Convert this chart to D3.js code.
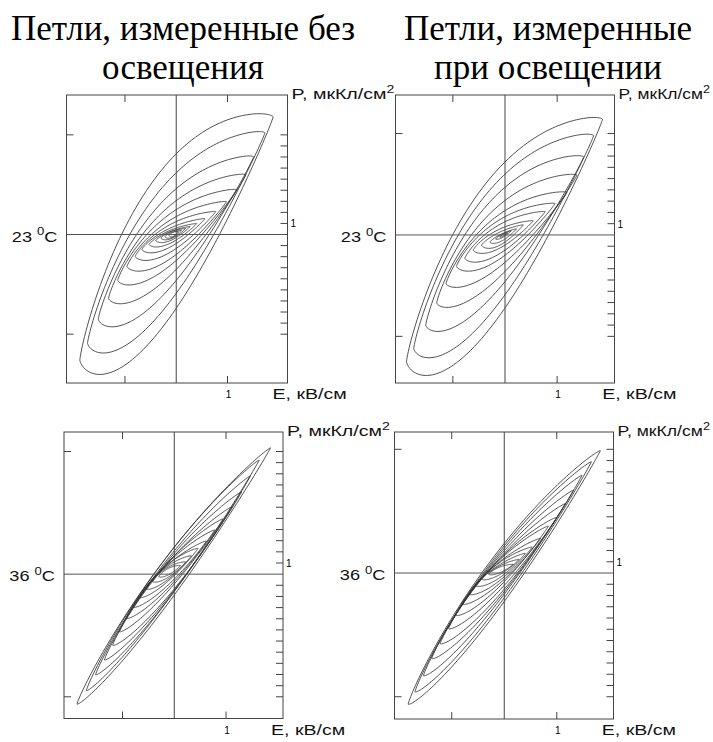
<!DOCTYPE html>
<html>
<head>
<meta charset="utf-8">
<script src="https://cdn.jsdelivr.net/npm/d3@7"></script>
<style>
  body { margin: 0; background: #fff; }
  svg { display: block; }
</style>
</head>
<body>
<svg id="chart" width="713" height="742"></svg>
<script>
// ---- Column titles ----
const titleLeft = ["Петли, измеренные без", "освещения"];
const titleRight = ["Петли, измеренные", "при освещении"];
const temperatures = ["23", "36"];

// ---- Axis ticks ----
const eTicks = [-1, 1];            // field ticks on top / bottom edges
const pTicks = [-1, 1];            // polarization ticks on the left edge
const eTickLabel = 1;
const rightTicksTop = [9, 8, 7, 6, 5, 4, 3, 2, 1, -1, -2, -3, -4, -5, -6, -7, -8, -9];
const rightTicksBottom = [11, 10, 9, 8, 7, 6, 5, 4, 3, 2, 1, -1, -2, -3, -4, -5, -6, -7, -8, -9, -10, -11];
const rightTickLabel = 1;

// ---- Loops, 23 °C, no illumination ----
// each loop: left tip (E,P), right tip (E,P), upper and lower branch P at E = 0
const dark23LeftE  = [-1.88, -1.73, -1.52, -1.32, -1.14, -0.96, -0.80, -0.67, -0.53, -0.40, -0.30, -0.22, -0.14];
const dark23LeftP  = [-1.26, -1.09, -0.85, -0.64, -0.46, -0.32, -0.22, -0.15, -0.10, -0.06, -0.035, -0.02, -0.01];
const dark23RightE = [1.89, 1.73, 1.51, 1.36, 1.18, 0.98, 0.77, 0.56, 0.40, 0.27, 0.18, 0.10, 0.04];
const dark23RightP = [1.18, 1.02, 0.78, 0.60, 0.45, 0.33, 0.23, 0.16, 0.11, 0.08, 0.06, 0.045, 0.03];
const dark23Up0    = [0.81, 0.62, 0.46, 0.34, 0.25, 0.18, 0.13, 0.09, 0.065, 0.05, 0.045, 0.035, 0.03];
const dark23Down0  = [-0.74, -0.59, -0.46, -0.35, -0.26, -0.20, -0.14, -0.09, -0.055, -0.03, -0.015, -0.005, 0.005];

// ---- Loops, 23 °C, illuminated ----
const lit23LeftE  = [-1.89, -1.75, -1.52, -1.31, -1.13, -0.93, -0.77, -0.61, -0.45, -0.29, -0.18, -0.10];
const lit23LeftP  = [-1.25, -1.12, -0.89, -0.67, -0.48, -0.31, -0.23, -0.15, -0.10, -0.07, -0.04, -0.02];
const lit23RightE = [1.87, 1.70, 1.51, 1.38, 1.19, 0.96, 0.77, 0.54, 0.35, 0.22, 0.12, 0.05];
const lit23RightP = [1.14, 0.98, 0.77, 0.59, 0.42, 0.31, 0.23, 0.14, 0.10, 0.06, 0.04, 0.02];
const lit23Up0    = [0.72, 0.60, 0.47, 0.34, 0.24, 0.18, 0.13, 0.08, 0.05, 0.025, 0.02, 0.012];
const lit23Down0  = [-0.72, -0.59, -0.46, -0.36, -0.27, -0.20, -0.15, -0.10, -0.07, -0.04, -0.01, 0.0];

// ---- Loops, 36 °C, no illumination ----
const dark36LeftE  = [-1.88, -1.70, -1.52, -1.35, -1.19, -1.06, -0.93, -0.80, -0.67, -0.54, -0.42, -0.30];
const dark36LeftP  = [-1.06, -0.95, -0.82, -0.70, -0.58, -0.47, -0.36, -0.27, -0.19, -0.12, -0.06, -0.02];
const dark36RightE = [1.86, 1.64, 1.47, 1.30, 1.12, 0.94, 0.78, 0.62, 0.46, 0.33, 0.22, 0.12];
const dark36RightP = [1.03, 0.93, 0.80, 0.67, 0.55, 0.45, 0.36, 0.27, 0.21, 0.15, 0.10, 0.07];
const dark36Up0    = [0.22, 0.22, 0.19, 0.17, 0.15, 0.15, 0.14, 0.12, 0.12, 0.10, 0.08, 0.065];
const dark36Down0  = [-0.17, -0.14, -0.14, -0.13, -0.12, -0.08, -0.06, -0.04, -0.01, 0.00, 0.01, 0.025];

// ---- Loops, 36 °C, illuminated ----
const lit36LeftE  = [-1.83, -1.70, -1.54, -1.38, -1.22, -1.06, -0.93, -0.81, -0.68, -0.55, -0.43, -0.30];
const lit36LeftP  = [-1.06, -0.96, -0.83, -0.69, -0.57, -0.45, -0.34, -0.25, -0.17, -0.10, -0.05, -0.01];
const lit36RightE = [1.83, 1.66, 1.48, 1.32, 1.16, 1.00, 0.84, 0.69, 0.53, 0.40, 0.28, 0.17];
const lit36RightP = [0.99, 0.90, 0.79, 0.67, 0.56, 0.45, 0.38, 0.28, 0.21, 0.16, 0.11, 0.07];
const lit36Up0    = [0.24, 0.22, 0.20, 0.18, 0.16, 0.15, 0.14, 0.12, 0.11, 0.09, 0.075, 0.06];
const lit36Down0  = [-0.23, -0.20, -0.17, -0.15, -0.13, -0.10, -0.07, -0.05, -0.03, -0.01, 0.01, 0.02];

function loopsOf(le, lp, re, rp, up, dn) {
  return le.map((d, i) => ({ e1: d, p1: lp[i], e2: re[i], p2: rp[i], up: up[i], dn: dn[i] }));
}

// ---- Panel layout ----
const panels = [
  { frame: [66.5, 95, 287.5, 383], eDom: [-2.14, 2.17], pDom: [-1.49, 1.40], minor: 9,
    ticks: rightTicksTop, temp: temperatures[0], skew: 0.3,
    loops: loopsOf(dark23LeftE, dark23LeftP, dark23RightE, dark23RightP, dark23Up0, dark23Down0) },
  { frame: [395.5, 95, 614.5, 383], eDom: [-2.10, 2.10], pDom: [-1.46, 1.38], minor: 9,
    ticks: rightTicksTop, temp: temperatures[0], skew: 0.3,
    loops: loopsOf(lit23LeftE, lit23LeftP, lit23RightE, lit23RightP, lit23Up0, lit23Down0) },
  { frame: [64, 432, 283, 718.5], eDom: [-2.13, 2.10], pDom: [-1.177, 1.159], minor: 11,
    ticks: rightTicksBottom, temp: temperatures[1], skew: 0.2,
    loops: loopsOf(dark36LeftE, dark36LeftP, dark36RightE, dark36RightP, dark36Up0, dark36Down0) },
  { frame: [394.5, 432, 613.5, 719], eDom: [-2.09, 2.08], pDom: [-1.18, 1.14], minor: 11,
    ticks: rightTicksBottom, temp: temperatures[1], skew: 0.2,
    loops: loopsOf(lit36LeftE, lit36LeftP, lit36RightE, lit36RightP, lit36Up0, lit36Down0) }
];

// bulge exponent at the left (rounder) and right (sharper) ends, outline samples
const shape = { pLeft: 1.55, pRight: 1.7, n: 160 };

// Closed loop outline: rounded lens between the two tips, fuller toward
// the left end, widened so both branches pass through their E = 0 crossings.
function loopOutline(l, k) {
  const ec = (l.e1 + l.e2) / 2, ea = (l.e2 - l.e1) / 2;
  const pc = (l.p1 + l.p2) / 2, pa = (l.p2 - l.p1) / 2;
  const bulge = (c, s) => {
    const p = shape.pLeft + (shape.pRight - shape.pLeft) * (1 + c) / 2;
    return Math.pow(Math.abs(s), p) * (1 - k * c);
  };
  const c0 = Math.max(-0.95, Math.min(0.95, -ec / ea));
  const s0 = Math.sqrt(1 - c0 * c0);
  const chord0 = pc + pa * c0;
  const bu = Math.max(0, l.up - chord0) / bulge(c0, s0);
  const bl = Math.max(0, chord0 - l.dn) / bulge(c0, s0);
  const pts = [];
  for (let i = 0; i < shape.n; i++) {
    const t = 2 * Math.PI * i / shape.n;
    const c = Math.cos(t), s = Math.sin(t);
    const off = s >= 0 ? bu * bulge(c, s) : -bl * bulge(c, s);
    pts.push([ec + ea * c, pc + pa * c + off]);
  }
  return pts;
}

const svg = d3.select("#chart");
const ink = "#333";
const sansFont = "'Liberation Sans', Arial, sans-serif";

// titles
function title(lines, cx) {
  const t = svg.append("text")
    .attr("font-family", "'Liberation Serif', 'Times New Roman', serif")
    .attr("font-size", 35).attr("fill", "#000").attr("text-anchor", "middle");
  lines.forEach((s, i) => t.append("tspan").attr("x", cx).attr("y", 40 + i * 39).text(s));
}
title(titleLeft, 183);
title(titleRight, 548);

// horizontally stretched sans label, squeezed if it would run past the page edge
function label(x, y, parts, size, sx, anchor) {
  const g = svg.append("g");
  const t = g.append("text").attr("font-family", sansFont).attr("font-size", size)
    .attr("fill", "#111").attr("text-anchor", anchor || "start");
  parts.forEach(p => {
    const ts = t.append("tspan").text(p.text);
    if (p.sup) ts.attr("font-size", size * 0.72).attr("dy", -size * 0.45);
    if (p.down) ts.attr("dy", size * 0.45);
  });
  const w = t.node().getComputedTextLength();
  const s = anchor ? sx : Math.min(sx, (710 - x) / w);
  g.attr("transform", `translate(${x},${y}) scale(${s},1)`);
  return t;
}

panels.forEach(P => {
  const [x0, y0, x1, y1] = P.frame;
  const x = d3.scaleLinear().domain(P.eDom).range([x0, x1]);
  const y = d3.scaleLinear().domain(P.pDom).range([y1, y0]);
  const yR = d3.scaleLinear().domain(P.pDom.map(d => d * P.minor)).range([y1, y0]);
  const g = svg.append("g");
  const tl = 7;

  // loops
  const line = d3.line().x(d => x(d[0])).y(d => y(d[1])).curve(d3.curveLinearClosed);
  g.append("g").selectAll("path").data(P.loops).join("path")
    .attr("d", d => line(loopOutline(d, P.skew)))
    .attr("fill", "none").attr("stroke", ink).attr("stroke-width", 0.85);

  // zero axes
  g.append("line").attr("x1", x0).attr("x2", x1).attr("y1", y(0)).attr("y2", y(0))
    .attr("stroke", "#555").attr("stroke-width", 1);
  g.append("line").attr("x1", x(0)).attr("x2", x(0)).attr("y1", y0).attr("y2", y1)
    .attr("stroke", "#444").attr("stroke-width", 1);

  // frame
  g.append("rect").attr("x", x0).attr("y", y0).attr("width", x1 - x0).attr("height", y1 - y0)
    .attr("fill", "none").attr("stroke", "#444").attr("stroke-width", 1);

  // E ticks top & bottom
  eTicks.forEach(v => {
    g.append("line").attr("x1", x(v)).attr("x2", x(v)).attr("y1", y0).attr("y2", y0 + tl).attr("stroke", "#444");
    g.append("line").attr("x1", x(v)).attr("x2", x(v)).attr("y1", y1).attr("y2", y1 - tl).attr("stroke", "#444");
  });
  // P ticks left
  pTicks.forEach(v => {
    g.append("line").attr("x1", x0).attr("x2", x0 + tl).attr("y1", y(v)).attr("y2", y(v)).attr("stroke", "#444");
  });
  // fine ticks right
  P.ticks.forEach(v => {
    g.append("line").attr("x1", x1).attr("x2", x1 - tl).attr("y1", yR(v)).attr("y2", yR(v)).attr("stroke", "#444");
  });

  // tick labels
  svg.append("text").attr("x", x(eTickLabel) + 1).attr("y", y1 + 15).attr("text-anchor", "middle")
    .attr("font-family", sansFont).attr("font-size", 10).attr("fill", "#000").text(eTickLabel);
  svg.append("text").attr("x", x1 + 3).attr("y", yR(rightTickLabel) + 4)
    .attr("font-family", sansFont).attr("font-size", 10).attr("fill", "#000").text(rightTickLabel);

  // axis names
  label(x1 + 4, y0 + 4, [{ text: "P, мкКл/см" }, { text: "2", sup: true }], 14, 1.4);
  label(x(1) + 45, y1 + 16, [{ text: "E, кВ/см" }], 14, 1.4);

  // temperature
  label(x0 - 9, y(0) + 7, [{ text: P.temp + " " }, { text: "0", sup: true }, { text: "C", down: true }], 14, 1.3, "end");
});
</script>
</body>
</html>
